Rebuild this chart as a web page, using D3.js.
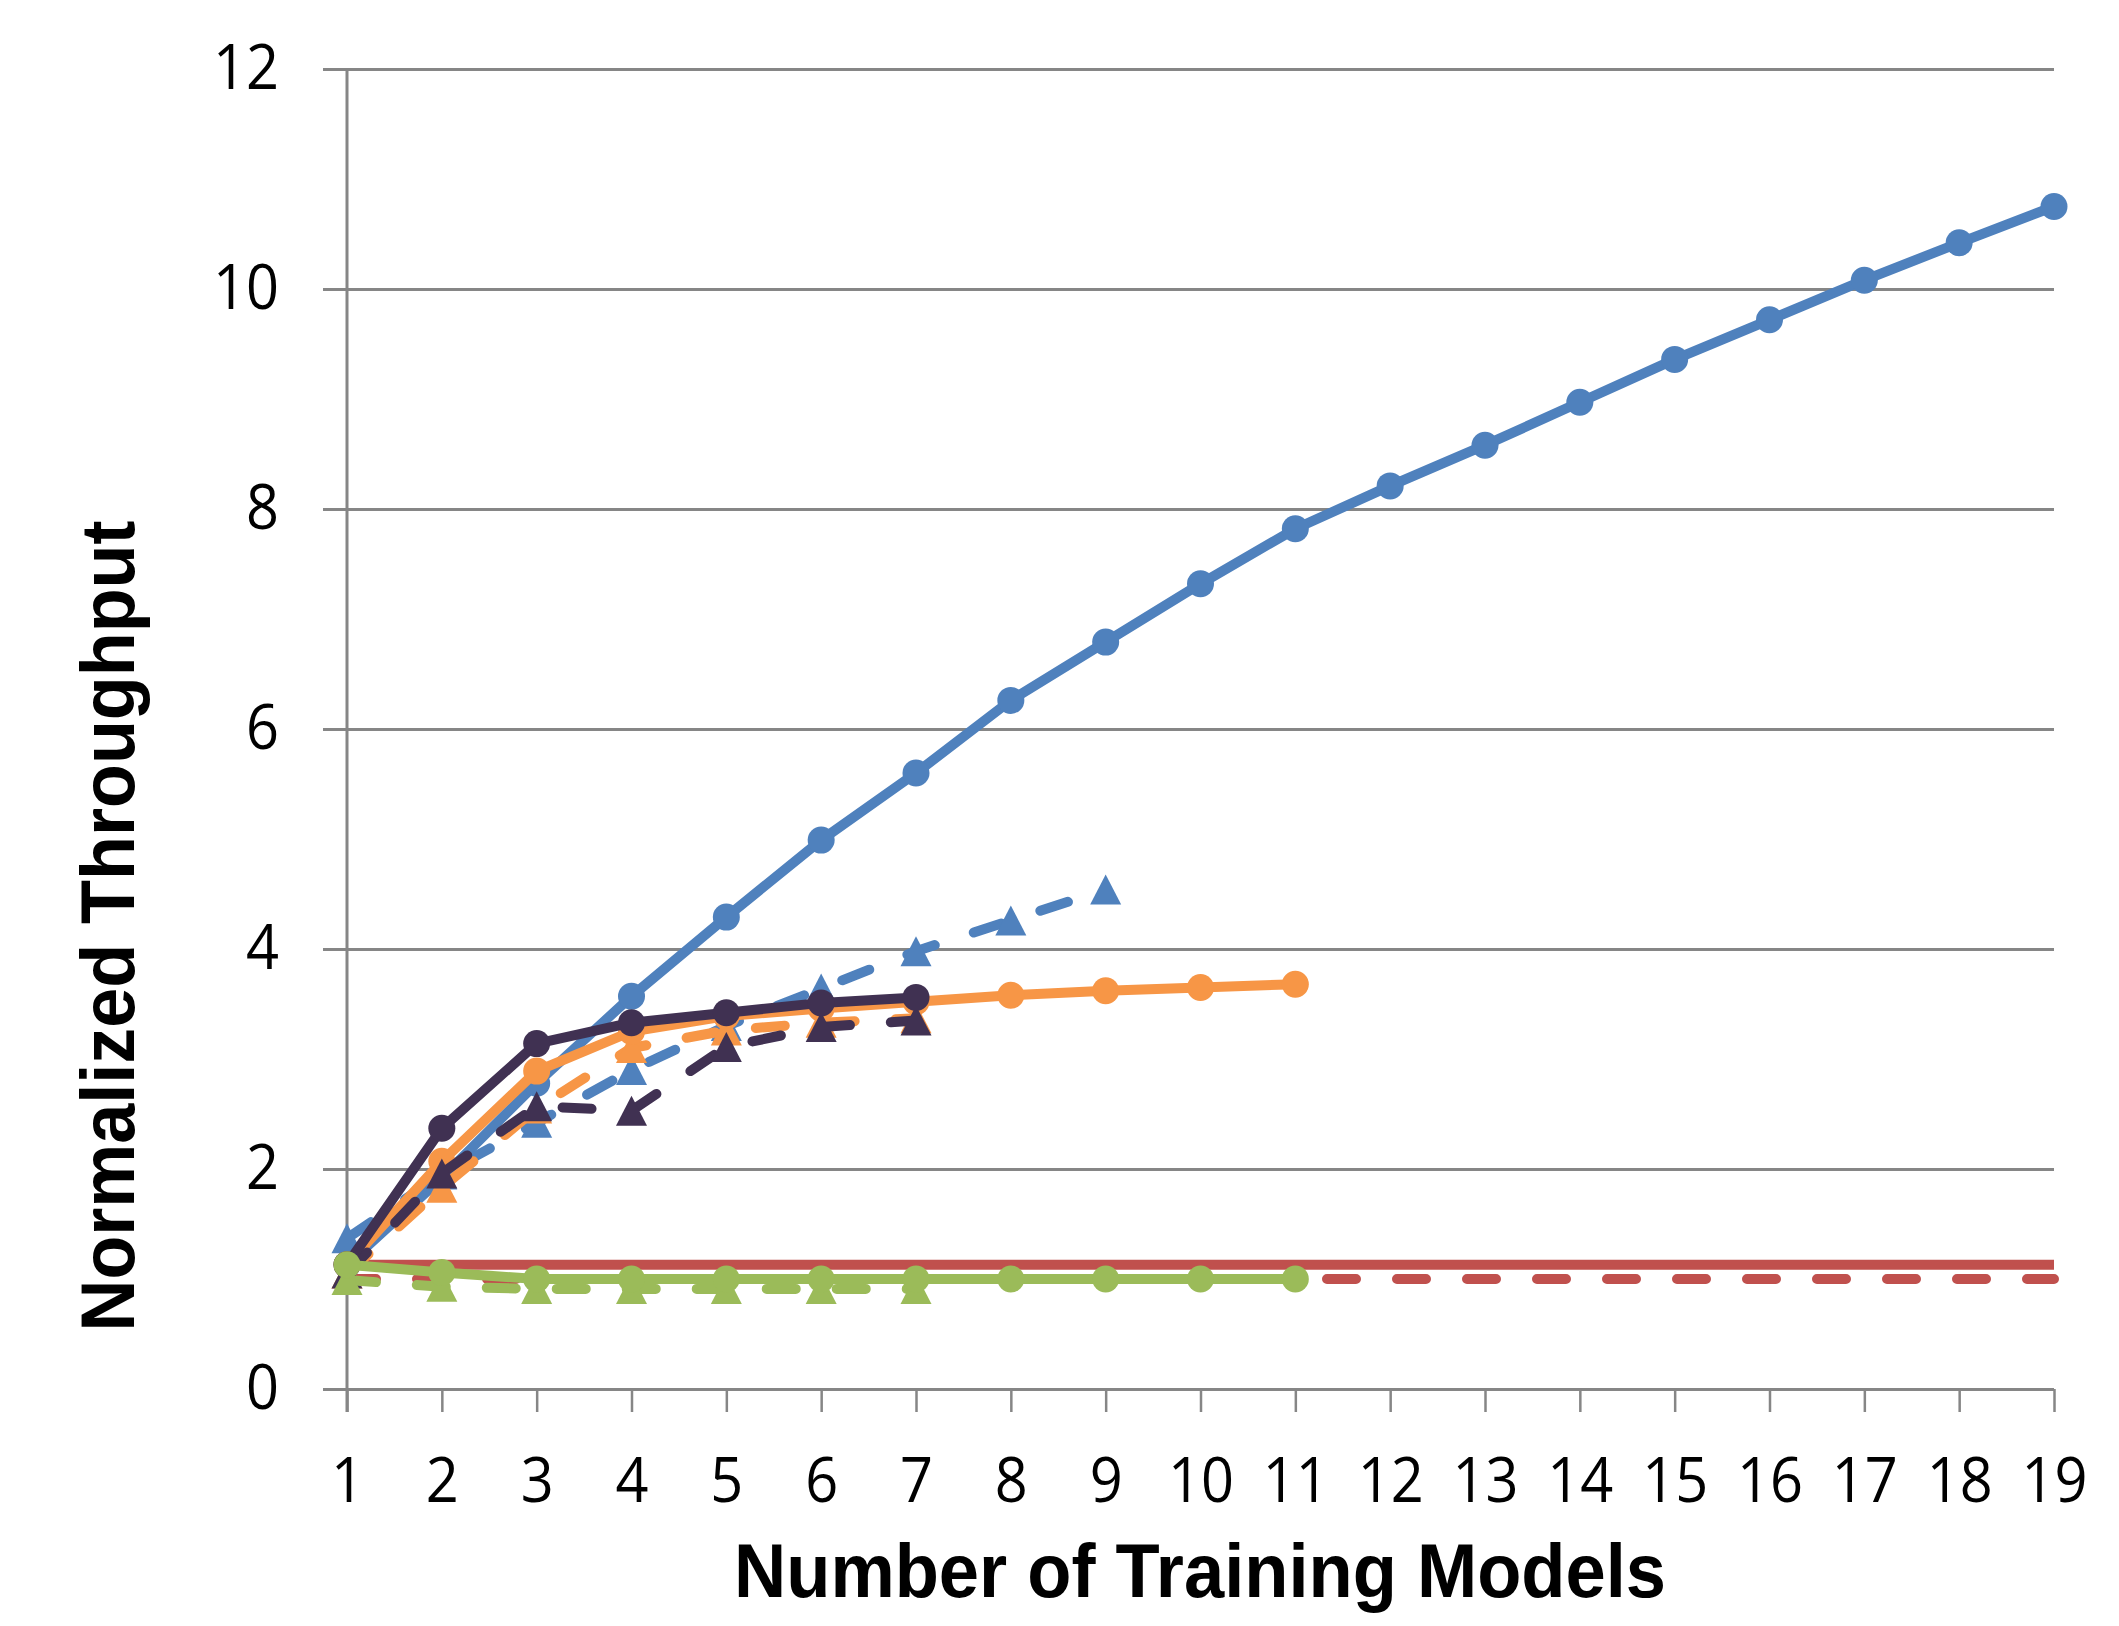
<!DOCTYPE html>
<html>
<head>
<meta charset="utf-8">
<script src="https://cdn.jsdelivr.net/npm/d3@7"></script>
<style>
  html, body { margin: 0; padding: 0; background: #ffffff; }
  svg { display: block; }
</style>
</head>
<body>
<svg id="chart" width="2119" height="1626"></svg>
<script>
// ---- data ----
const xValues = [1,2,3,4,5,6,7,8,9,10,11,12,13,14,15,16,17,18,19];
const yTicks = [0,2,4,6,8,10,12];
const xTitle = "Number of Training Models";
const yTitle = "Normalized Throughput";

const redSolid    = [1.13,1.13,1.13,1.13,1.13,1.13,1.13,1.13,1.13,1.13,1.13,1.13,1.13,1.13,1.13,1.13,1.13,1.13,1.13];
const redDashed   = [1.0,1.0,1.0,1.0,1.0,1.0,1.0,1.0,1.0,1.0,1.0,1.0,1.0,1.0,1.0,1.0,1.0,1.0,1.0];
const blueSolid   = [1.13,1.92,2.78,3.57,4.29,4.99,5.60,6.26,6.79,7.32,7.82,8.21,8.58,8.97,9.36,9.72,10.08,10.42,10.75];
const blueDashed  = [1.37,1.95,2.42,2.90,3.30,3.64,3.98,4.26,4.54];
const orangeDashed= [1.05,1.83,2.55,3.10,3.26,3.33,3.37];
const orangeSolid = [1.13,2.07,2.89,3.25,3.39,3.46,3.52,3.58,3.62,3.65,3.68];
const purpleDashed= [1.05,1.96,2.57,2.53,3.11,3.29,3.35];
const purpleSolid = [1.13,2.37,3.14,3.33,3.42,3.51,3.56];
const greenDashed = [0.99,0.93,0.91,0.91,0.91,0.91,0.91];
const greenSolid  = [1.13,1.06,1.00,1.00,1.00,1.00,1.00,1.00,1.00,1.00,1.00];

const series = [
  {values: redSolid,     color: "#C0504D", dashed: false, marker: null},
  {values: redDashed,    color: "#C0504D", dashed: true,  marker: null},
  {values: blueSolid,    color: "#4F81BD", dashed: false, marker: "circle"},
  {values: blueDashed,   color: "#4F81BD", dashed: true,  marker: "triangle"},
  {values: orangeDashed, color: "#F79646", dashed: true,  marker: "triangle"},
  {values: orangeSolid,  color: "#F79646", dashed: false, marker: "circle"},
  {values: purpleDashed, color: "#403152", dashed: true,  marker: "triangle"},
  {values: purpleSolid,  color: "#403152", dashed: false, marker: "circle"},
  {values: greenDashed,  color: "#9BBB59", dashed: true,  marker: "triangle"},
  {values: greenSolid,   color: "#9BBB59", dashed: false, marker: "circle"}
];

// ---- layout ----
const svg = d3.select("#chart");
const x = d3.scaleLinear().domain([1,19]).range([347,2054]);
const y = d3.scaleLinear().domain([0,12]).range([1389,69]);
const gridColor = "#868686";
const font = "'Open Sans', 'Noto Sans', sans-serif";
const titleFont = "'Liberation Sans', Arial, sans-serif";

// gridlines + y axis
const yAxis = d3.axisLeft(y).tickValues(yTicks).tickFormat(d3.format("d"))
  .tickSize(24).tickPadding(22);
const gy = svg.append("g").attr("transform", "translate(347,0)").call(yAxis);
gy.select(".domain").remove();
gy.selectAll(".tick line").attr("stroke", gridColor).attr("stroke-width", 3)
  .attr("x1", -24).attr("x2", x(19) - 347);
gy.selectAll(".tick text").attr("x", -68)
  .style("font-family", font).style("font-size", "62px").attr("fill", "#000")
  .each(function() {
    const n = this.textContent.length;
    d3.select(this).attr("textLength", n * 33).attr("lengthAdjust", "spacingAndGlyphs");
  });

// x axis
const xAxis = d3.axisBottom(x).tickValues(xValues).tickFormat(d3.format("d"))
  .tickSize(23).tickPadding(46);
const gx = svg.append("g").attr("transform", "translate(0,1389)").call(xAxis);
gx.select(".domain").remove();
gx.selectAll(".tick line").attr("stroke", gridColor).attr("stroke-width", 2.5);
gx.selectAll(".tick text")
  .style("font-family", font).style("font-size", "62px").attr("fill", "#000")
  .each(function() {
    const n = this.textContent.length;
    d3.select(this).attr("textLength", n * 33).attr("lengthAdjust", "spacingAndGlyphs");
  });

// y axis line
svg.append("line").attr("x1", 347).attr("x2", 347).attr("y1", y(12)).attr("y2", 1412)
  .attr("stroke", gridColor).attr("stroke-width", 3);

// ---- series ----
const line = d3.line().x((d,i) => x(xValues[i])).y(d => y(d));
const tri = "M0,-15L15.5,15L-15.5,15Z";
const plot = svg.append("g");
series.forEach(s => {
  const g = plot.append("g");
  g.append("path").datum(s.values).attr("d", line)
    .attr("fill", "none").attr("stroke", s.color).attr("stroke-width", 10)
    .attr("stroke-linejoin", "round")
    .attr("stroke-linecap", s.dashed ? "round" : "butt")
    .attr("stroke-dasharray", s.dashed ? "29,41" : null);
  if (s.marker === "circle") {
    g.selectAll("circle").data(s.values).join("circle")
      .attr("cx", (d,i) => x(xValues[i])).attr("cy", d => y(d)).attr("r", 13.5)
      .attr("fill", s.color);
  } else if (s.marker === "triangle") {
    g.selectAll("path.m").data(s.values).join("path").attr("class", "m")
      .attr("d", tri)
      .attr("transform", (d,i) => `translate(${x(xValues[i])},${y(d)})`)
      .attr("fill", s.color);
  }
});

// ---- titles ----
svg.append("text").attr("x", 1200).attr("y", 1597).attr("text-anchor", "middle")
  .style("font-family", titleFont).style("font-weight", "bold").style("font-size", "76px")
  .attr("textLength", 932).attr("lengthAdjust", "spacingAndGlyphs")
  .text(xTitle);
svg.append("text").attr("transform", "translate(134,926) rotate(-90)").attr("text-anchor", "middle")
  .style("font-family", titleFont).style("font-weight", "bold").style("font-size", "76px")
  .attr("textLength", 811).attr("lengthAdjust", "spacingAndGlyphs")
  .text(yTitle);
</script>
</body>
</html>
